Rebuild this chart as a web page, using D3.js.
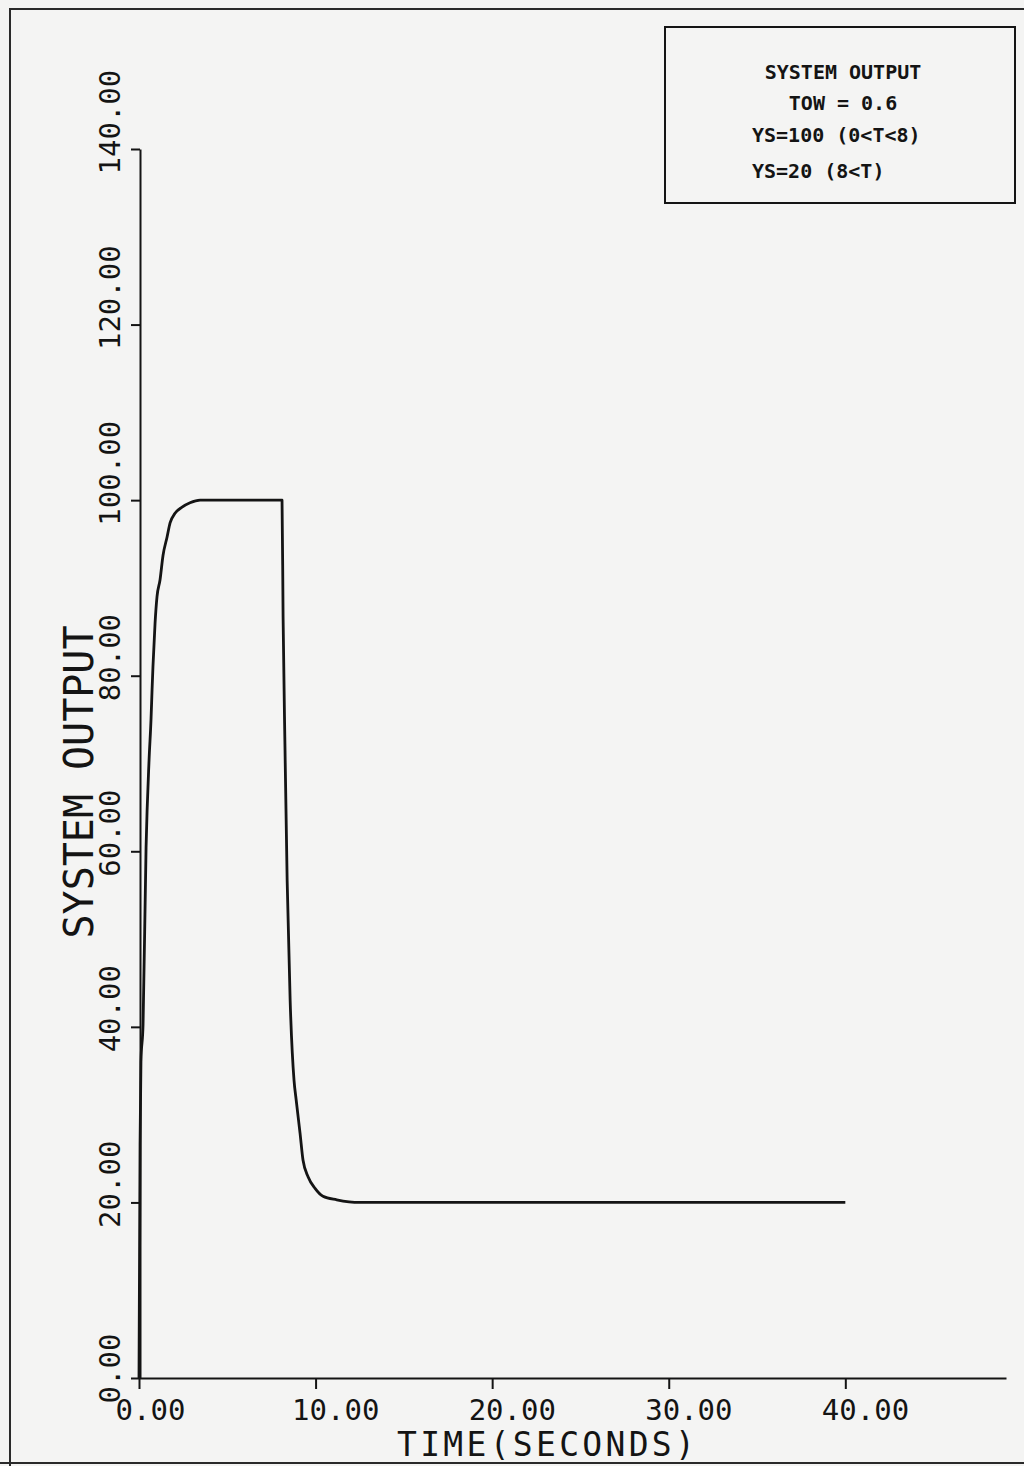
<!DOCTYPE html>
<html>
<head>
<meta charset="utf-8">
<script src="https://cdn.jsdelivr.net/npm/d3@7"></script>
<style>
  html, body { margin: 0; padding: 0; background: #f4f4f3; }
  svg { display: block; }
</style>
</head>
<body>
<div id="chart"></div>
<script>
// values (time in seconds, system output)
const timeValues = [0, 0.06, 0.11, 0.23, 0.4, 0.57, 0.68, 0.74, 0.79, 0.91, 1.02, 1.19, 1.36, 1.59, 1.76, 2.04, 2.44, 2.89, 3.46,
                    8.1, 8.16, 8.27, 8.39, 8.56, 8.78, 8.9, 9.12, 9.29, 9.58, 9.97, 10.42, 11.2, 12.5, 40];
const outputValues = [0, 26.5, 36, 40.3, 60.4, 70.4, 75, 78.4, 81, 86, 89, 90.9, 93.7, 95.8, 97.4, 98.5, 99.2, 99.7, 100,
                      100, 86.7, 71.5, 56.7, 43, 33.9, 31.7, 27.9, 24.8, 22.9, 21.6, 20.7, 20.3, 20, 20];

const xTicks = [0, 10, 20, 30, 40];
const yTicks = [0, 20, 40, 60, 80, 100, 120, 140];
const xTitle = 'TIME(SECONDS)';
const yTitle = 'SYSTEM OUTPUT';
const legendLines = ['SYSTEM OUTPUT', 'TOW = 0.6', 'YS=100 (0<T<8)', 'YS=20  (8<T)'];

const ink = '#141414';
const font = "'DejaVu Sans Mono', monospace";

const svg = d3.select('#chart')
  .append('svg')
  .attr('width', 1024)
  .attr('height', 1466);

// scanned page frame
svg.append('path')
  .attr('d', 'M10,1466 L10,9 L1024,9 M0,1463 L1024,1463')
  .attr('fill', 'none')
  .attr('stroke', '#2a2a2a')
  .attr('stroke-width', 2);

const x = d3.scaleLinear().domain([0, 49.1]).range([139, 1006]);
const y = d3.scaleLinear().domain([0, 140]).range([1378, 149]);

// x axis
const gx = svg.append('g')
  .attr('transform', `translate(0,${y(0)})`)
  .call(d3.axisBottom(x).tickValues(xTicks).tickSize(11).tickSizeOuter(0).tickFormat(d3.format('.2f')));

gx.selectAll('text')
  .attr('text-anchor', 'start')
  .attr('x', -24)
  .attr('y', 42)
  .attr('dy', 0);

// y axis
const gy = svg.append('g')
  .attr('transform', `translate(${x(0) + 1},0)`)
  .call(d3.axisLeft(y).tickValues(yTicks).tickSize(9).tickSizeOuter(0).tickFormat(d3.format('.2f')));

gy.selectAll('text')
  .attr('transform', 'rotate(-90)')
  .attr('text-anchor', 'start')
  .attr('x', -25)
  .attr('y', -20)
  .attr('dy', 0);

[gx, gy].forEach(g => {
  g.attr('font-family', font).attr('font-size', 29);
  g.selectAll('text').attr('fill', ink);
  g.selectAll('line, path').attr('stroke', ink).attr('stroke-width', 2);
});

// axis titles
svg.append('text')
  .attr('x', 397)
  .attr('y', 1456)
  .attr('font-family', font)
  .attr('font-size', 33)
  .attr('letter-spacing', 3.3)
  .attr('fill', ink)
  .text(xTitle);

svg.append('text')
  .attr('transform', 'translate(93,782) rotate(-90)')
  .attr('text-anchor', 'middle')
  .attr('font-family', font)
  .attr('font-size', 40)
  .attr('fill', ink)
  .text(yTitle);

// response curve
const line = d3.line()
  .x(d => x(d[0]))
  .y(d => y(d[1]))
  .curve(d3.curveMonotoneX);

svg.append('path')
  .datum(timeValues.map((t, i) => [t, outputValues[i]]))
  .attr('d', line)
  .attr('fill', 'none')
  .attr('stroke', ink)
  .attr('stroke-width', 2.8)
  .attr('stroke-linejoin', 'round');

// legend box
svg.append('rect')
  .attr('x', 665)
  .attr('y', 27)
  .attr('width', 350)
  .attr('height', 176)
  .attr('fill', 'none')
  .attr('stroke', ink)
  .attr('stroke-width', 2);

const legendY = [79, 110, 142, 178];
svg.append('g')
  .attr('font-family', font)
  .attr('font-weight', 'bold')
  .attr('font-size', 20)
  .attr('fill', ink)
  .style('white-space', 'pre')
  .selectAll('text')
  .data(legendLines)
  .join('text')
  .attr('x', (d, i) => i < 2 ? 843 : 752)
  .attr('y', (d, i) => legendY[i])
  .attr('text-anchor', (d, i) => i < 2 ? 'middle' : 'start')
  .text(d => d);
</script>
</body>
</html>
